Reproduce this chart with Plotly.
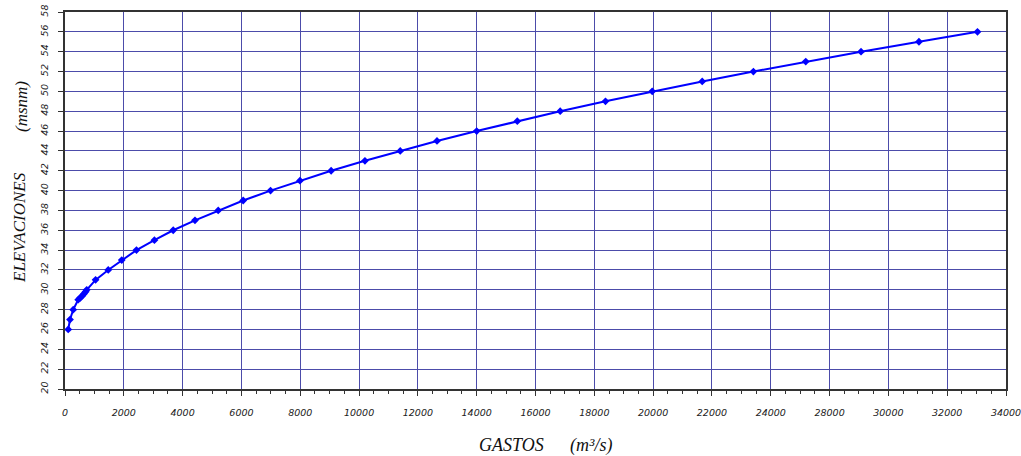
import plotly.graph_objects as go

# Discharge (m3/s, in uniform axis units) and elevation (msnm)
gastos = [110, 170, 280, 450, 520, 590, 645, 700, 740, 1040, 1470, 1930, 2430, 3040,
          3680, 4420, 5210, 6060, 6990, 7990, 9050, 10200, 11400, 12650, 14000, 15380,
          16840, 18380, 19970, 21670, 23410, 25190, 27070, 29040, 31030]
elevaciones = [26, 27, 28, 29, 29.2, 29.4, 29.6, 29.8, 30, 31, 32, 33, 34, 35,
               36, 37, 38, 39, 40, 41, 42, 43, 44, 45, 46, 47,
               48, 49, 50, 51, 52, 53, 54, 55, 56]

x_tickvals = list(range(0, 32001, 2000))
x_ticktext = ["0", "2000", "4000", "6000", "8000", "10000", "12000", "14000", "16000",
              "18000", "20000", "22000", "24000", "28000", "30000", "32000", "34000"]
y_tickvals = list(range(20, 59, 2))

grid_color = "#4C4CAA"
tick_font = dict(family="DejaVu Sans", size=9.5, color="#222222", style="italic")
title_font = dict(family="Liberation Serif", size=18, color="#111111", style="italic")
ytitle_font = dict(family="Liberation Serif", size=17, color="#111111", style="italic")

W, H = 1021, 456
L, R, T, B = 65, 15, 12, 67
pw, ph = W - L - R, H - T - B


def px_to_paper(xp, yp):
    return (xp - L) / pw, (H - B - yp) / ph


fig = go.Figure()
fig.add_trace(go.Scatter(
    x=gastos, y=elevaciones, mode="lines+markers",
    line=dict(color="#0000FF", width=2),
    marker=dict(symbol="diamond", size=6, color="#0000FF"),
    showlegend=False, cliponaxis=False,
))

annotations = []
for text, xp, yp, ang, fnt in [("GASTOS", 511, 445, 0, title_font),
                               ("(m³/s)", 591, 445, 0, title_font),
                               ("ELEVACIONES", 20, 228, -90, ytitle_font),
                               ("(msnm)", 21, 107, -90, ytitle_font)]:
    xx, yy = px_to_paper(xp, yp)
    annotations.append(dict(text=text, x=xx, y=yy, xref="paper", yref="paper",
                            xanchor="center", yanchor="middle", textangle=ang,
                            showarrow=False, font=fnt))

fig.update_layout(
    width=W, height=H,
    margin=dict(l=L, r=R, t=T, b=B, autoexpand=False),
    paper_bgcolor="white", plot_bgcolor="white",
    xaxis=dict(
        range=[0, 32000], tickvals=x_tickvals, ticktext=x_ticktext,
        showgrid=True, gridcolor=grid_color, gridwidth=1,
        showline=True, linecolor="#333333", linewidth=1.5, mirror=True,
        ticks="outside", ticklen=5, tickcolor="#333333", tickwidth=1,
        minor=dict(dtick=500, tick0=0, ticks="outside", ticklen=3, tickcolor="#333333", showgrid=False),
        tickfont=tick_font, ticklabelstandoff=9, zeroline=False,
        automargin=False, ticklabeloverflow="allow",
    ),
    yaxis=dict(
        range=[20, 58], tickvals=y_tickvals,
        showgrid=True, gridcolor=grid_color, gridwidth=1,
        showline=True, linecolor="#333333", linewidth=1.5, mirror=True,
        ticks="outside", ticklen=5, tickcolor="#333333", tickwidth=1,
        tickangle=-90, tickfont=tick_font, zeroline=False,
        ticklabelstandoff=6, automargin=False, ticklabeloverflow="allow",
    ),
    annotations=annotations,
)

fig.write_html("out.html", config={"displayModeBar": False},
               post_script="document.body.style.margin='0px';document.body.style.overflow='hidden';")
